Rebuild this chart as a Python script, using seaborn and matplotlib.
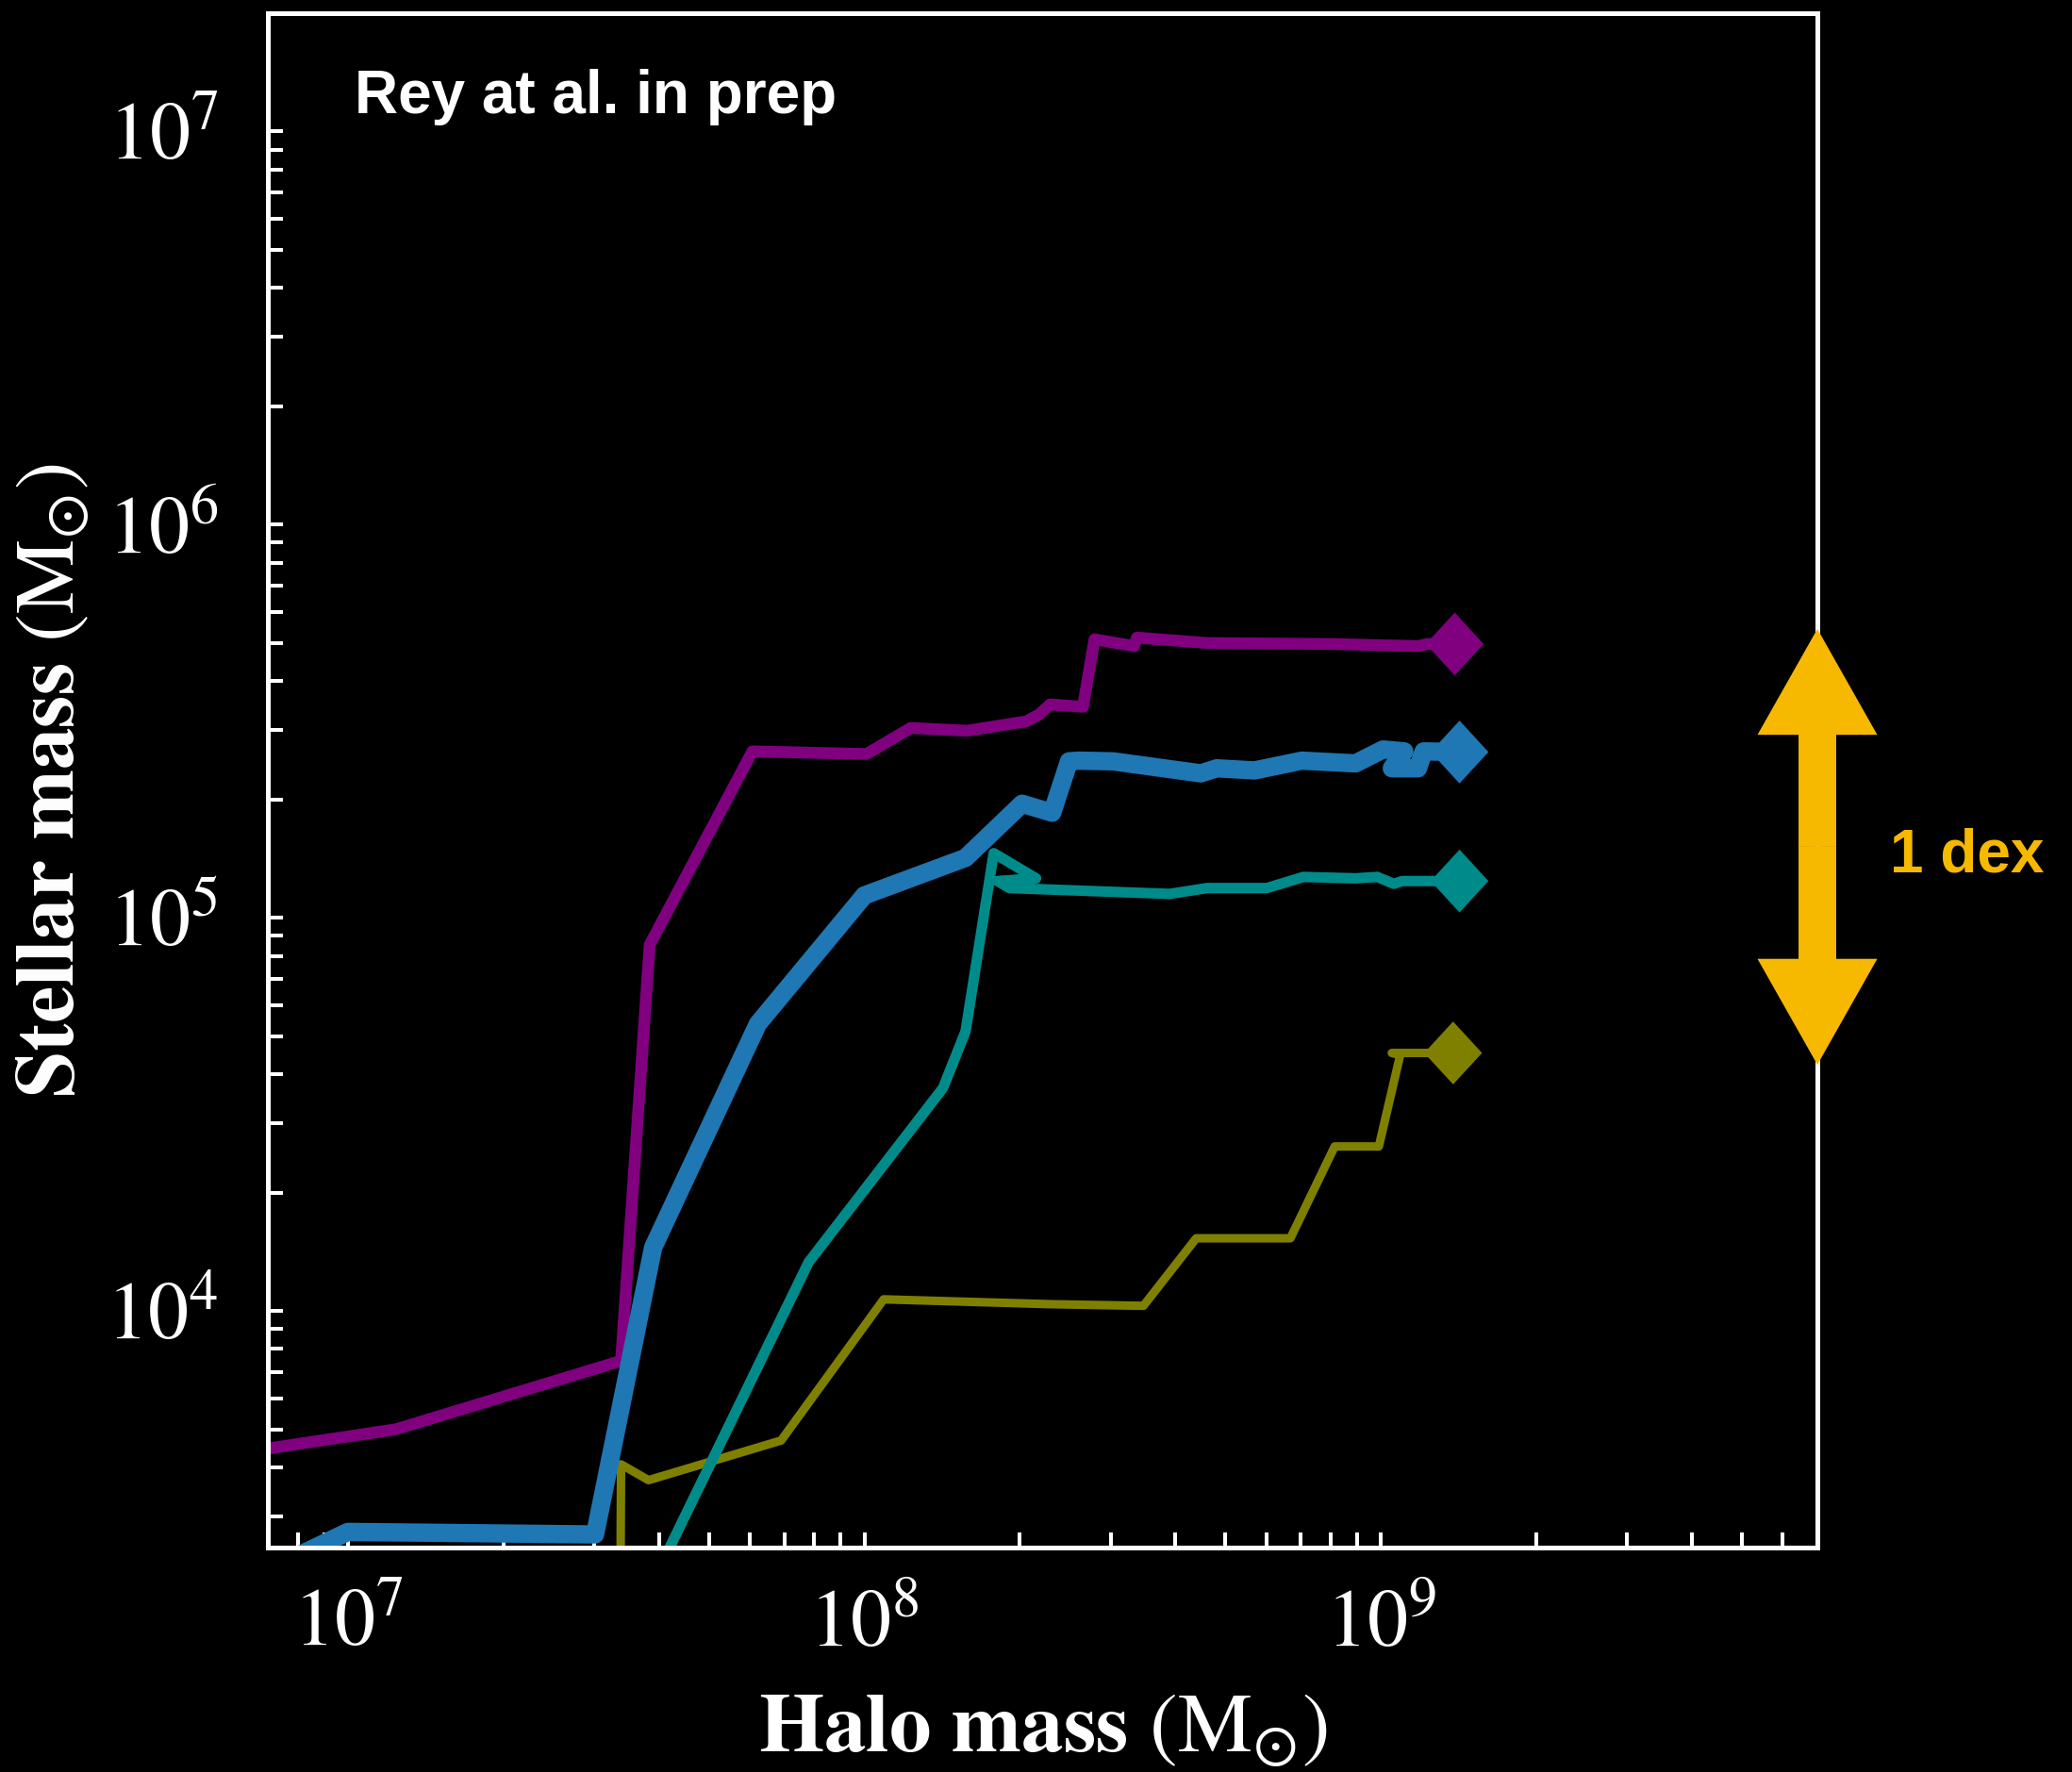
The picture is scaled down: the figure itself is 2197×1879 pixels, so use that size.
import numpy as np
import pandas as pd
import matplotlib
matplotlib.use("Agg")
import matplotlib.pyplot as plt
import matplotlib.patches as mpatches
from matplotlib.path import Path
from matplotlib.markers import MarkerStyle
from matplotlib.ticker import LogLocator, LogFormatterSciNotation, NullFormatter
import seaborn as sns

# ---------------- data (halo mass, stellar mass) ----------------
purple_halo = [6.5e6, 1.24e7, 3.38e7, 3.84e7, 6.07e7, 1.01e8, 1.23e8, 1.58e8, 2.06e8, 2.18e8,
               2.29e8, 2.65e8, 2.79e8, 3.33e8, 3.37e8, 4.61e8, 8.07e8, 1.18e9, 1.23e9, 1.39e9]
purple_star = [4.4e3, 5.0e3, 7.46e3, 8.53e4, 2.65e5, 2.61e5, 3.04e5, 2.99e5, 3.16e5, 3.29e5,
               3.49e5, 3.44e5, 5.11e5, 4.91e5, 5.16e5, 5.00e5, 4.97e5, 4.91e5, 4.97e5, 4.97e5]

olive_halo = [3.37e7, 3.38e7, 3.82e7, 6.90e7, 1.09e8, 2.29e8, 3.47e8, 4.39e8, 6.68e8, 8.14e8,
              9.91e8, 1.09e9, 1.05e9, 1.38e9]
olive_star = [1.83e3, 4.07e3, 3.71e3, 4.68e3, 1.07e4, 1.04e4, 1.03e4, 1.53e4, 1.53e4, 2.62e4,
              2.62e4, 4.48e4, 4.53e4, 4.53e4]

teal_halo = [3.9e7, 7.80e7, 1.42e8, 1.57e8, 1.78e8, 2.15e8, 1.81e8, 1.91e8, 3.90e8, 4.61e8,
             6.01e8, 7.08e8, 8.93e8, 9.84e8, 1.06e9, 1.10e9, 1.42e9]
teal_star = [2.05e3, 1.33e4, 3.69e4, 5.14e4, 1.46e5, 1.26e5, 1.24e5, 1.19e5, 1.15e5, 1.19e5,
             1.19e5, 1.27e5, 1.26e5, 1.27e5, 1.22e5, 1.24e5, 1.24e5]

blue_halo = [7.52e6, 1.0e7, 3.01e7, 3.90e7, 6.22e7, 1.00e8, 1.57e8, 2.02e8, 2.31e8, 2.49e8,
             2.60e8, 3.03e8, 4.48e8, 4.81e8, 5.69e8, 7.03e8, 8.93e8, 1.01e9, 1.11e9, 1.05e9,
             1.18e9, 1.21e9, 1.42e9]
blue_star = [2.29e3, 2.74e3, 2.70e3, 1.45e4, 5.37e4, 1.14e5, 1.42e5, 1.95e5, 1.85e5, 2.50e5,
             2.51e5, 2.50e5, 2.33e5, 2.40e5, 2.37e5, 2.51e5, 2.47e5, 2.68e5, 2.65e5, 2.40e5,
             2.40e5, 2.65e5, 2.64e5]

series_names = ["purple", "olive", "teal", "blue"]
series_colors = ["#800080", "#808000", "#008b8b", "#1f77b4"]
series_widths = [9.0, 6.5, 8.0, 14.0]
series_halo = [purple_halo, olive_halo, teal_halo, blue_halo]
series_star = [purple_star, olive_star, teal_star, blue_star]

# final (z=0) points shown as diamonds
final_halo = [1.39e9, 1.38e9, 1.42e9, 1.42e9]
final_star = [4.97e5, 4.53e4, 1.24e5, 2.64e5]

# ---------------- style ----------------
sns.set_theme(style="ticks")
plt.rcParams.update({
    "figure.facecolor": "black",
    "axes.facecolor": "black",
    "savefig.facecolor": "black",
    "axes.edgecolor": "white",
    "xtick.color": "white",
    "ytick.color": "white",
    "text.color": "white",
    "axes.labelcolor": "white",
    "mathtext.fontset": "stix",
})
plt.rcParams["font.family"] = ["STIXGeneral", "DejaVu Serif"]

fig = plt.figure(figsize=(21.97, 18.79), dpi=100)
ax = fig.add_axes([0.12927, 0.12666, 0.74784, 0.86589])
ax.set_xscale("log")
ax.set_yscale("log")

for i, name in enumerate(series_names):
    df = pd.DataFrame({"halo": series_halo[i], "star": series_star[i]})
    sns.lineplot(data=df, x="halo", y="star", sort=False, estimator=None,
                 color=series_colors[i], linewidth=series_widths[i], ax=ax,
                 zorder=2 + 0.1 * i, solid_joinstyle="round", solid_capstyle="butt")

diamond = MarkerStyle(Path([(0, 1), (0.92, 0), (0, -1), (-0.92, 0), (0, 1)],
                           [Path.MOVETO, Path.LINETO, Path.LINETO, Path.LINETO, Path.CLOSEPOLY]))
fin = pd.DataFrame({"halo": final_halo, "star": final_star, "sim": series_names})
sns.scatterplot(data=fin, x="halo", y="star", hue="sim", palette=dict(zip(series_names, series_colors)),
                marker=diamond, s=48 ** 2, linewidth=0, edgecolor="none", legend=False,
                ax=ax, zorder=4)

ax.set_xlim(7.0e6, 7.0e9)
ax.set_ylim(2.5e3, 2.0e7)

for sp in ax.spines.values():
    sp.set_color("white")
    sp.set_linewidth(3.6)

ax.xaxis.set_major_locator(LogLocator(base=10))
ax.yaxis.set_major_locator(LogLocator(base=10))
ax.xaxis.set_minor_locator(LogLocator(base=10, subs=np.arange(2, 10)))
ax.yaxis.set_minor_locator(LogLocator(base=10, subs=np.arange(2, 10)))
ax.xaxis.set_minor_formatter(NullFormatter())
ax.yaxis.set_minor_formatter(NullFormatter())
ax.xaxis.set_major_formatter(LogFormatterSciNotation())
ax.yaxis.set_major_formatter(LogFormatterSciNotation())

ax.tick_params(axis="both", which="both", direction="in", length=11.5, width=2.9,
               colors="white", top=False, right=False)
ax.tick_params(axis="x", which="major", labelsize=62, pad=32)
ax.tick_params(axis="y", which="major", labelsize=62, pad=38)

ax.set_xlabel(r"Halo mass $(\mathrm{M}_{\odot})$", fontsize=64, fontweight="bold",
              color="white")
ax.set_ylabel(r"Stellar mass $(\mathrm{M}_{\odot})$", fontsize=64, fontweight="bold",
              color="white")
ax.xaxis.set_label_coords(0.5, -0.094)
ax.yaxis.set_label_coords(-0.114, 0.5)

ax.text(0.056, 0.935, "Rey at al. in prep", transform=ax.transAxes, fontsize=46,
        fontweight="bold", family=["Liberation Sans", "DejaVu Sans"], color="white",
        ha="left", va="baseline")

# 1 dex double arrow on right spine
arrow_color = "#f6b900"
mid = 0.4567
for dy in (0.142, -0.142):
    arr = mpatches.FancyArrow(1.0, mid, 0, dy, width=0.0243, head_width=0.0773,
                              head_length=0.069, length_includes_head=True,
                              transform=ax.transAxes, color=arrow_color, lw=0,
                              clip_on=False, zorder=6)
    ax.add_patch(arr)
ax.text(1.0 + (2004 - 1927) / 1643, (1641 - 924) / 1627, "1 dex", transform=ax.transAxes,
        fontsize=46, fontweight="bold", family=["Liberation Sans", "DejaVu Sans"],
        color=arrow_color, ha="left", va="baseline", clip_on=False)

fig.savefig("out.png", dpi=100, facecolor="black")
